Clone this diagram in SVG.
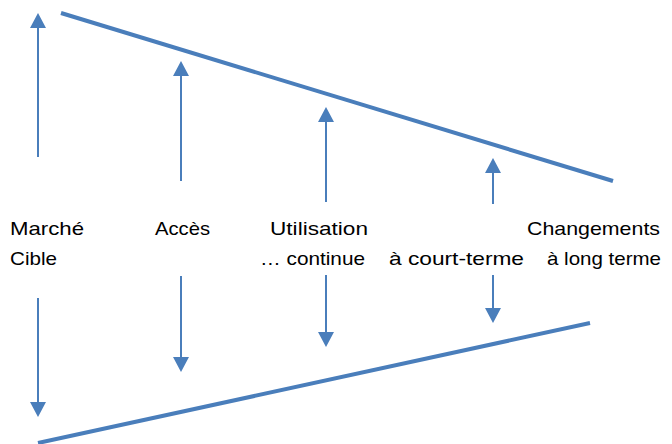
<svg xmlns="http://www.w3.org/2000/svg" width="672" height="444" viewBox="0 0 672 444">
<style>
.edge{stroke:#4A7EBB;stroke-width:4;fill:none}
.arr{stroke:#4A7EBB;stroke-width:2;fill:none;marker-end:url(#ah)}
text{font-family:"Liberation Sans",Arial,sans-serif;font-size:18.5px;fill:#000}
</style>
<defs>
<marker id="ah" markerUnits="userSpaceOnUse" markerWidth="15" markerHeight="16" refX="0" refY="8" orient="auto" viewBox="0 0 15 16">
<path d="M0,0 L15,8 L0,16 Z" fill="#4A7EBB"/>
</marker>
</defs>
<rect width="672" height="444" fill="#fff"/>
<g id="funnel">
<line class="edge" x1="61" y1="13" x2="613" y2="181"/>
<line class="edge" x1="38" y1="443" x2="590" y2="323"/>
</g>
<g id="connectors">
<line class="arr" x1="38" y1="157" x2="38" y2="28"/>
<line class="arr" x1="181" y1="181" x2="181" y2="76"/>
<line class="arr" x1="326" y1="202" x2="326" y2="122"/>
<line class="arr" x1="493" y1="204" x2="493" y2="173"/>
<line class="arr" x1="38" y1="298" x2="38" y2="402"/>
<line class="arr" x1="181" y1="276" x2="181" y2="357"/>
<line class="arr" x1="326" y1="275" x2="326" y2="332"/>
<line class="arr" x1="493" y1="275" x2="493" y2="308"/>
</g>
<g id="marche">
<text x="10" y="235" textLength="74" lengthAdjust="spacingAndGlyphs">Marché</text>
<text x="10" y="265" textLength="47" lengthAdjust="spacingAndGlyphs">Cible</text>
</g>
<g id="acces">
<text x="155" y="235" textLength="55" lengthAdjust="spacingAndGlyphs">Accès</text>
</g>
<g id="utilisation">
<text x="270" y="235" textLength="98" lengthAdjust="spacingAndGlyphs">Utilisation</text>
<text x="260" y="265" textLength="105" lengthAdjust="spacingAndGlyphs">… continue</text>
</g>
<g id="court-terme">
<text x="389" y="265" textLength="135" lengthAdjust="spacingAndGlyphs">à court-terme</text>
</g>
<g id="long-terme">
<text x="527" y="235" textLength="133" lengthAdjust="spacingAndGlyphs">Changements</text>
<text x="547" y="265" textLength="114" lengthAdjust="spacingAndGlyphs">à long terme</text>
</g>
</svg>
